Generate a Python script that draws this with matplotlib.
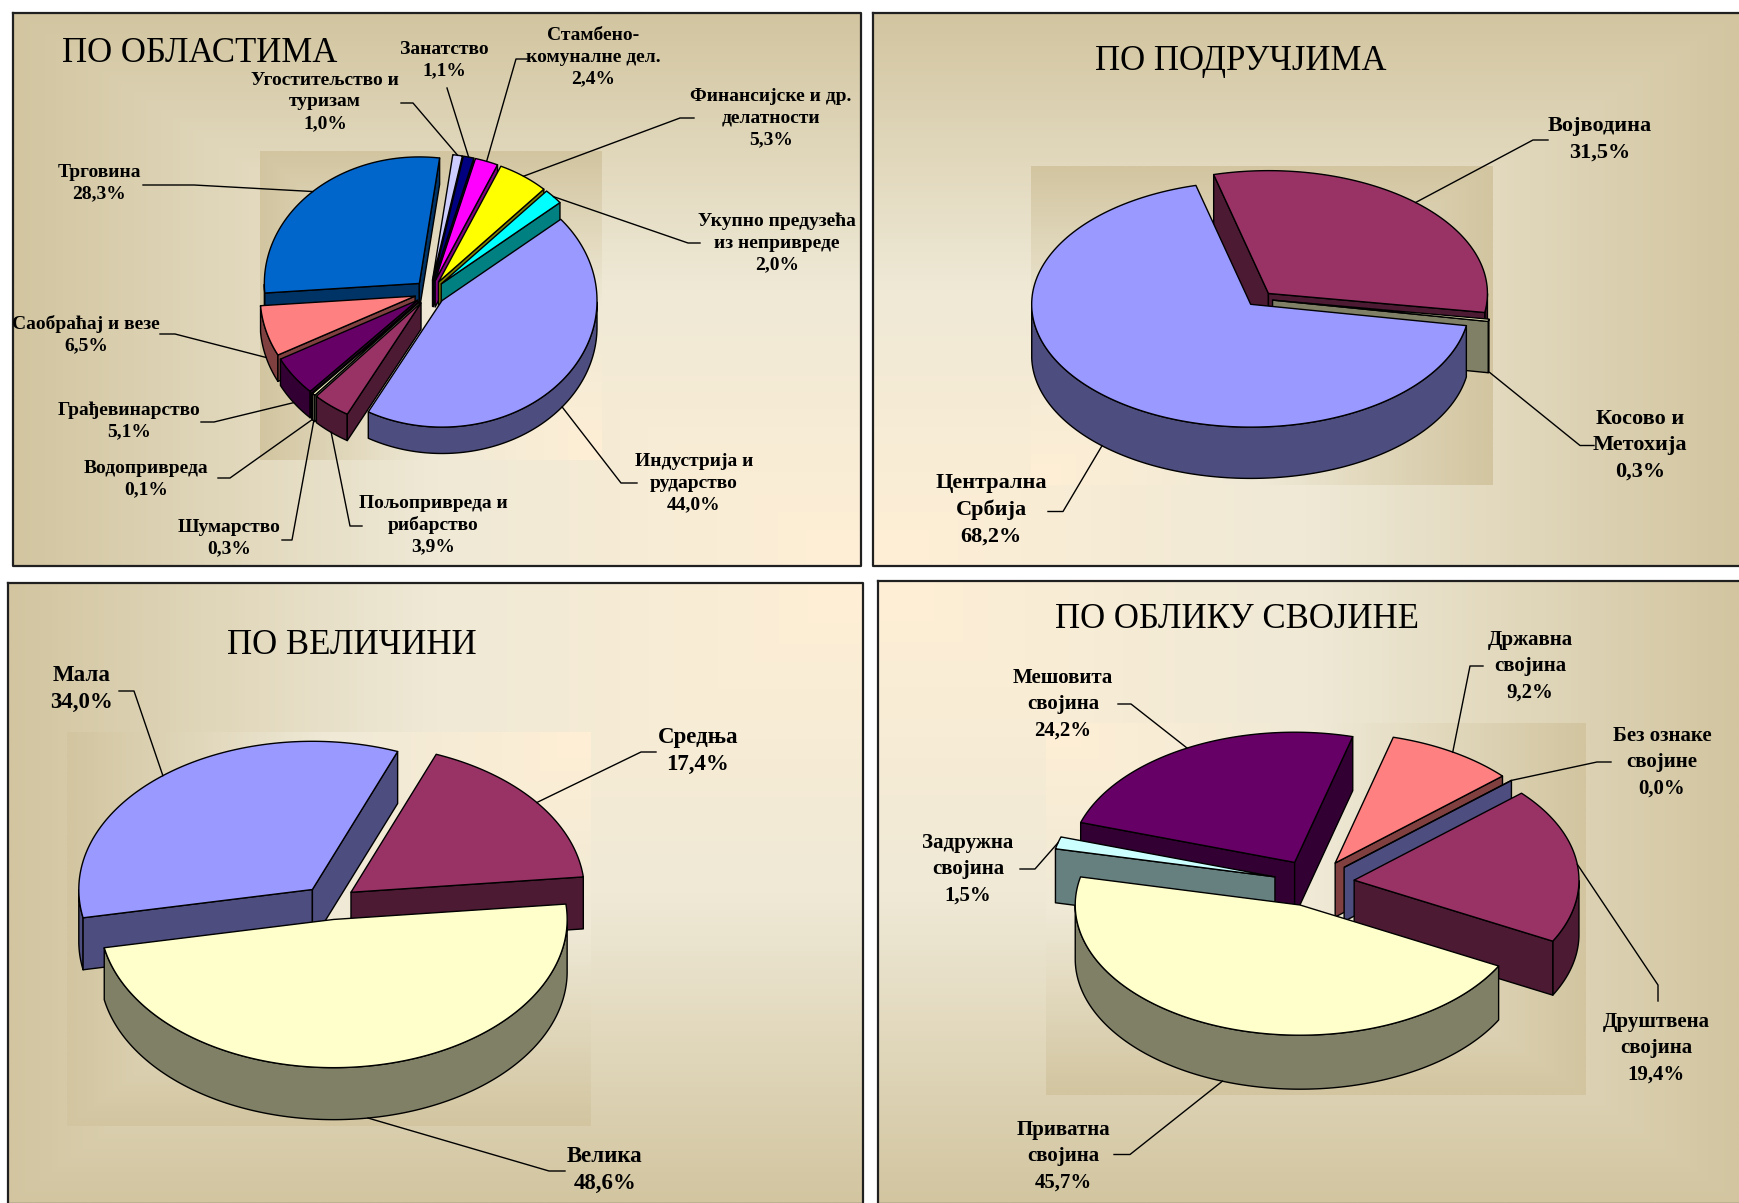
import numpy as np
import matplotlib
matplotlib.use("Agg")
import matplotlib.pyplot as plt
from matplotlib.colors import LinearSegmentedColormap
from matplotlib.patches import Polygon

plt.rcParams["font.family"] = ["Liberation Serif", "DejaVu Serif"]

# data, clockwise in the order of the original workbooks
oblasti_labels = ["Индустрија и\nрударство", "Пољопривреда и\nрибарство", "Шумарство", "Водопривреда",
                  "Грађевинарство", "Саобраћај и везе", "Трговина", "Угоститељство и\nтуризам", "Занатство",
                  "Стамбено-\nкомуналне дел.", "Финансијске и др.\nделатности", "Укупно предузећа\nиз непривреде"]
oblasti_values = [44.0, 3.9, 0.3, 0.1, 5.1, 6.5, 28.3, 1.0, 1.1, 2.4, 5.3, 2.0]
oblasti_colors = ["#9999FF", "#993366", "#FFFFCC", "#CCFFFF", "#660066", "#FF8080",
                  "#0066CC", "#CCCCFF", "#000080", "#FF00FF", "#FFFF00", "#00FFFF"]

podrucja_labels = ["Централна\nСрбија", "Војводина", "Косово и\nМетохија"]
podrucja_values = [68.2, 31.5, 0.3]
podrucja_colors = ["#9999FF", "#993366", "#FFFFCC"]

velicina_labels = ["Мала", "Средња", "Велика"]
velicina_values = [34.0, 17.4, 48.6]
velicina_colors = ["#9999FF", "#993366", "#FFFFCC"]

svojina_labels = ["Без ознаке\nсвојине", "Друштвена\nсвојина", "Приватна\nсвојина", "Задружна\nсвојина",
                  "Мешовита\nсвојина", "Државна\nсвојина"]
svojina_values = [0.0, 19.4, 45.7, 1.5, 24.2, 9.2]
svojina_colors = ["#9999FF", "#993366", "#FFFFCC", "#CCFFFF", "#660066", "#FF8080"]

grad = LinearSegmentedColormap.from_list("g", ["#FFEFD5", "#EFE9D6", "#D2C5A0"])


def gradient(ax, box, corner):
    x0, x1, y0, y1 = box
    u, v = np.meshgrid(np.linspace(0, 1, 300), np.linspace(0, 1, 300))
    if corner[0] == "r":
        u = 1 - u
    if corner[1] == "b":
        v = 1 - v
    ax.imshow(np.maximum(u, v), cmap=grad, vmin=0, vmax=1, extent=(x0, x1, y1, y0),
              aspect="auto", interpolation="bilinear", zorder=1)


def side(c):
    return tuple(k * 0.5 for k in matplotlib.colors.to_rgb(c))


def pie3d(ax, values, colors, cx, cy, rx, ry, depth, start, explode, order):
    spans = np.cumsum([0] + values) * 3.6 + start
    rims = []
    for i in range(len(values)):
        a = np.radians(np.linspace(spans[i], spans[i + 1], 180))
        mid = np.radians((spans[i] + spans[i + 1]) / 2)
        ox = cx + explode * rx * np.sin(mid)
        oy = cy - explode * ry * np.cos(mid)
        xs = ox + rx * np.sin(a)
        ys = oy - ry * np.cos(a)
        rims.append((ox + rx * np.sin(mid), oy - ry * np.cos(mid) + (depth if np.cos(mid) < 0 else 0)))
        arc = np.column_stack([xs, ys])
        drop = [0, depth]
        kw = dict(edgecolor="black", linewidth=1.0, joinstyle="round", zorder=3 + order.index(i))
        apex = np.array([ox, oy])
        # only the faces turned to the viewer
        front = arc[np.cos(a) < 0]
        if len(front) > 1:
            ax.add_patch(Polygon(np.vstack([front, (front + drop)[::-1]]), facecolor=side(colors[i]), **kw))
        if np.sin(a[0]) < 0:
            ax.add_patch(Polygon([apex, arc[0], arc[0] + drop, apex + drop], facecolor=side(colors[i]), **kw))
        if np.sin(a[-1]) > 0:
            ax.add_patch(Polygon([apex, arc[-1], arc[-1] + drop, apex + drop], facecolor=side(colors[i]), **kw))
        ax.add_patch(Polygon(np.vstack([apex, arc]), facecolor=colors[i], **kw))
    return rims


def labels(ax, names, values, rims, spots, size, spacing):
    for name, val, rim, (tx, ty, *elbow) in zip(names, values, rims, spots):
        ax.text(tx, ty, name + "\n" + f"{val:.1f}%".replace(".", ","), ha="center", va="center",
                fontsize=size, fontweight="bold", linespacing=spacing, zorder=40)
        pts = [rim] + [elbow[k:k + 2] for k in range(0, len(elbow), 2)]
        ax.plot([p[0] for p in pts], [p[1] for p in pts], color="black", lw=1.0, zorder=39)


fig = plt.figure(figsize=(17.4, 12.03), dpi=100)
ax = fig.add_axes([0, 0, 1, 1])

panels = [
    dict(box=(13, 861, 13, 566), inner=(260, 602, 151.5, 460), corner="rb"),
    dict(box=(873, 1741, 13, 566), inner=(1031, 1493, 166, 485), corner="lb"),
    dict(box=(8, 863, 583, 1204), inner=(67, 591, 732, 1126), corner="rt"),
    dict(box=(878, 1741, 581, 1204), inner=(1046.5, 1586, 723, 1095), corner="lt"),
]
for p in panels:
    x0, x1, y0, y1 = p["box"]
    gradient(ax, p["box"], p["corner"])
    gradient(ax, p["inner"], p["corner"])
    ax.plot([x0, x1, x1, x0, x0], [y0, y0, y1, y1, y0], color="#202020", lw=1.6, zorder=2)

ax.text(200, 53, "ПО ОБЛАСТИМА", ha="center", va="center", fontsize=25, zorder=40)
ax.text(1241, 61, "ПО ПОДРУЧЈИМА", ha="center", va="center", fontsize=25, zorder=40)
ax.text(352, 646, "ПО ВЕЛИЧИНИ", ha="center", va="center", fontsize=25, zorder=40)
ax.text(1237, 620, "ПО ОБЛИКУ СВОЈИНЕ", ha="center", va="center", fontsize=25, zorder=40)

rims = pie3d(ax, oblasti_values, oblasti_colors, 430, 292.6, 155, 126.5, 26.4, 50, 0.1,
             [6, 7, 8, 9, 10, 11, 5, 4, 3, 2, 1, 0])
labels(ax, oblasti_labels, oblasti_values, rims, [
    (694, 483, 621, 483, 637, 483),
    (433, 525, 350, 526, 362, 526),
    (229, 538, 292, 540, 282, 540),
    (146, 479, 230, 478, 218, 478),
    (129, 421, 214, 422, 201, 422),
    (86, 335, 175, 334, 160, 334),
    (99, 183, 194, 185, 143, 185),
    (325, 102, 413, 103, 401, 103),
    (444, 60, 447, 88),
    (593, 57, 516, 59, 527, 59),
    (771, 118, 680, 118, 694, 118),
    (777, 243, 688, 243, 700, 243),
], 14, 1.33)

rims = pie3d(ax, podrucja_values, podrucja_colors, 1259.6, 298.9, 219, 122.8, 51.3, 100, 0.06, [1, 2, 0])
labels(ax, podrucja_labels, podrucja_values, rims, [
    (991, 510, 1063, 511.5, 1048, 511.5),
    (1600, 139, 1533, 140, 1548, 140),
    (1640, 445, 1580, 445.5, 1594, 445.5),
], 16, 1.42)

rims = pie3d(ax, velicina_values, velicina_colors, 329.6, 902.6, 233.6, 148.2, 52, 259, 0.115, [0, 1, 2])
labels(ax, velicina_labels, velicina_values, rims, [
    (82, 689, 134, 691, 119, 691),
    (698, 751, 641, 752, 656, 752),
    (605, 1170, 549, 1171, 565, 1171),
], 16.5, 1.42)

rims = pie3d(ax, svojina_values, svojina_colors, 1314, 883, 224.8, 130.2, 54, 48.1, 0.18, [4, 5, 0, 3, 1, 2])
labels(ax, svojina_labels, svojina_values, rims, [
    (1662, 762, 1597, 762, 1611, 762),
    (1656, 1048, 1658, 985, 1658, 1001),
    (1063, 1156, 1130, 1154.5, 1114, 1154.5),
    (968, 869, 1035, 869, 1020, 869),
    (1063, 704, 1131, 704, 1118, 704),
    (1530, 666, 1470, 666, 1483, 666),
], 15, 1.42)

ax.set_xlim(0, 1740)
ax.set_ylim(1203, 0)
ax.axis("off")
fig.savefig("out.png", dpi=100, facecolor="white")
